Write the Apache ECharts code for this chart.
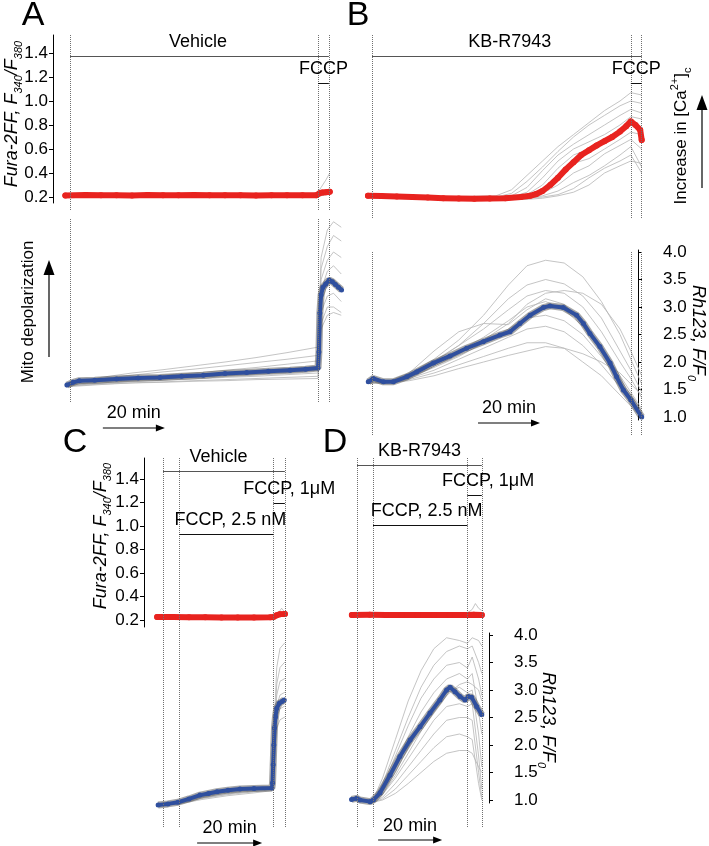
<!DOCTYPE html>
<html><head><meta charset="utf-8">
<script src="https://cdn.jsdelivr.net/npm/echarts@6/dist/echarts.min.js"></script>
<style>html,body{margin:0;padding:0;background:#fff}#c{width:709px;height:846px}</style>
</head><body><div id="c"></div><script>
// ================= DATA =================
// Panel A (Vehicle) – Fura-2FF ratio, time in min
const tA_red = [-1.5, 5, 10, 15, 20, 25, 30, 35, 40, 45, 50, 55, 60, 65, 70, 75, 79.5, 80.5, 81.5, 82.5, 83.8];
const A_red  = [0.213, 0.216, 0.214, 0.215, 0.213, 0.216, 0.215, 0.214, 0.216, 0.215, 0.214, 0.215, 0.213, 0.214, 0.215, 0.214, 0.215, 0.232, 0.238, 0.240, 0.244];
const tA_grayTop = [-1.5, 20, 40, 60, 79.5, 81, 82.5, 83.8];
const A_grayTop = [
  [0.20, 0.20, 0.20, 0.20, 0.20, 0.21, 0.22, 0.22],
  [0.23, 0.23, 0.23, 0.23, 0.23, 0.25, 0.26, 0.26],
  [0.22, 0.22, 0.22, 0.22, 0.22, 0.28, 0.34, 0.40]
];
// Panel A – Rh123 F/F0
const tA_blue = [-1, 1, 3, 8, 15, 22, 29, 36, 43, 50, 57, 64, 71, 76, 80, 80.3, 80.6, 81, 81.6, 82.5, 83.6, 84.6, 85.6, 86.6, 87.6];
const A_blue  = [1.58, 1.63, 1.66, 1.67, 1.69, 1.71, 1.72, 1.74, 1.76, 1.79, 1.81, 1.83, 1.85, 1.87, 1.89, 2.18, 2.89, 3.22, 3.36, 3.42, 3.49, 3.46, 3.41, 3.36, 3.31];
const tA_grayBot = [-1, 10, 20, 30, 40, 50, 60, 70, 80, 81, 83, 85, 87.5];
const A_grayBot = [
  [1.60, 1.72, 1.80, 1.86, 1.93, 2.00, 2.08, 2.17, 2.27, 3.90, 4.40, 4.55, 4.45],
  [1.58, 1.70, 1.76, 1.82, 1.87, 1.93, 1.99, 2.05, 2.12, 3.70, 4.10, 4.30, 4.20],
  [1.57, 1.66, 1.72, 1.76, 1.80, 1.85, 1.90, 1.96, 2.02, 3.50, 3.85, 4.00, 3.90],
  [1.58, 1.64, 1.68, 1.72, 1.76, 1.80, 1.84, 1.88, 1.92, 3.30, 3.65, 3.75, 3.60],
  [1.56, 1.62, 1.66, 1.69, 1.72, 1.75, 1.78, 1.81, 1.85, 3.10, 3.40, 3.50, 3.35],
  [1.57, 1.61, 1.64, 1.67, 1.69, 1.72, 1.74, 1.77, 1.80, 2.90, 3.20, 3.25, 3.10],
  [1.55, 1.59, 1.62, 1.64, 1.66, 1.68, 1.70, 1.72, 1.74, 2.70, 3.00, 3.00, 2.90],
  [1.56, 1.60, 1.62, 1.63, 1.65, 1.66, 1.68, 1.69, 1.70, 2.60, 2.85, 2.90, 2.85]
];

// Panel B (KB-R7943)
const tB_red = [-1.3, 3, 8, 13, 18, 23, 28, 33, 38, 43, 48, 51, 53, 55, 57.5, 60, 62.5, 65, 67.5, 70, 72.5, 75, 77.5, 80, 82, 83.5, 85, 86.5, 87];
const B_red  = [0.21, 0.208, 0.205, 0.20, 0.195, 0.19, 0.187, 0.186, 0.188, 0.19, 0.20, 0.21, 0.225, 0.25, 0.30, 0.36, 0.43, 0.49, 0.55, 0.59, 0.63, 0.665, 0.70, 0.745, 0.79, 0.83, 0.80, 0.76, 0.675];
const tB_grayTop = [-1.3, 20, 40, 45, 50, 55, 60, 65, 70, 75, 80, 83.5, 87];
const B_grayTop = [
  [0.21, 0.20, 0.21, 0.26, 0.38, 0.50, 0.62, 0.72, 0.82, 0.92, 1.00, 1.07, 1.05],
  [0.21, 0.20, 0.20, 0.23, 0.33, 0.45, 0.58, 0.70, 0.80, 0.88, 0.96, 1.00, 0.98],
  [0.21, 0.19, 0.19, 0.21, 0.28, 0.42, 0.55, 0.64, 0.72, 0.80, 0.88, 0.93, 0.90],
  [0.21, 0.19, 0.19, 0.20, 0.24, 0.36, 0.50, 0.60, 0.66, 0.72, 0.80, 0.87, 0.85],
  [0.21, 0.19, 0.19, 0.19, 0.22, 0.30, 0.44, 0.55, 0.60, 0.66, 0.74, 0.80, 0.78],
  [0.21, 0.19, 0.18, 0.19, 0.21, 0.26, 0.36, 0.48, 0.52, 0.60, 0.68, 0.74, 0.72],
  [0.21, 0.19, 0.18, 0.18, 0.20, 0.23, 0.30, 0.40, 0.46, 0.56, 0.63, 0.68, 0.60],
  [0.21, 0.19, 0.18, 0.18, 0.19, 0.21, 0.25, 0.32, 0.38, 0.46, 0.55, 0.62, 0.45],
  [0.21, 0.19, 0.18, 0.18, 0.19, 0.20, 0.22, 0.27, 0.36, 0.44, 0.50, 0.55, 0.40],
  [0.21, 0.19, 0.18, 0.18, 0.18, 0.19, 0.21, 0.24, 0.30, 0.40, 0.46, 0.50, 0.48]
];
const tB_blue = [-1.2, 0.4, 3.7, 6.9, 11.2, 14.4, 19.8, 25.2, 30.5, 35.9, 41.3, 44.5, 47.7, 51, 55.3, 57.4, 61.7, 66, 68.2, 70.3, 73.5, 76.8, 78.9, 81.1, 83.5, 87];
const B_blue  = [1.64, 1.70, 1.64, 1.64, 1.73, 1.82, 1.98, 2.11, 2.25, 2.37, 2.49, 2.55, 2.70, 2.85, 2.99, 3.02, 2.99, 2.85, 2.70, 2.52, 2.28, 1.98, 1.73, 1.49, 1.31, 1.00];
const tB_grayBot = [-1.2, 5, 12, 20, 28, 36, 44, 50, 56, 62, 68, 74, 80, 83.5, 87];
const B_grayBot = [
  [1.62, 1.63, 1.78, 2.05, 2.40, 2.85, 3.40, 3.75, 3.85, 3.80, 3.55, 3.10, 2.50, 2.05, 1.60],
  [1.62, 1.63, 1.75, 2.00, 2.30, 2.70, 3.15, 3.40, 3.50, 3.42, 3.20, 2.80, 2.20, 1.85, 1.45],
  [1.63, 1.64, 1.76, 2.02, 2.30, 2.60, 2.95, 3.20, 3.30, 3.25, 3.00, 2.55, 2.00, 1.70, 1.35],
  [1.64, 1.64, 1.80, 2.20, 2.55, 2.70, 2.68, 2.95, 3.15, 3.05, 2.70, 2.25, 1.75, 1.45, 1.15],
  [1.63, 1.64, 1.74, 1.95, 2.20, 2.45, 2.75, 3.00, 3.10, 2.95, 2.65, 2.20, 1.70, 1.40, 1.10],
  [1.62, 1.63, 1.72, 1.90, 2.10, 2.35, 2.60, 2.80, 2.85, 2.75, 2.50, 2.10, 1.65, 1.35, 1.05],
  [1.62, 1.63, 1.70, 1.85, 2.05, 2.25, 2.45, 2.60, 2.65, 2.55, 2.30, 1.95, 1.55, 1.30, 1.00],
  [1.61, 1.62, 1.68, 1.80, 1.95, 2.10, 2.25, 2.35, 2.35, 2.25, 2.00, 1.75, 1.40, 1.20, 0.98],
  [1.61, 1.62, 1.66, 1.75, 1.88, 2.00, 2.12, 2.20, 2.28, 2.25, 2.15, 2.00, 1.80, 1.60, 1.40],
  [1.62, 1.63, 1.72, 1.92, 2.15, 2.40, 2.70, 3.05, 3.25, 3.30, 3.25, 3.05, 2.60, 2.20, 1.75]
];

// Panel C (Vehicle + FCCP 2.5 nM)
const tC_red = [-1.8, 3, 8, 13, 18, 23, 28, 33, 34, 35, 36, 37.5];
const C_red  = [0.225, 0.225, 0.224, 0.223, 0.222, 0.222, 0.222, 0.223, 0.226, 0.240, 0.250, 0.252];
const tC_grayTop = [-1.8, 10, 20, 30, 34, 35.5, 36.5, 37.5];
const C_grayTop = [
  [0.215, 0.214, 0.213, 0.213, 0.215, 0.23, 0.24, 0.245],
  [0.235, 0.234, 0.233, 0.233, 0.235, 0.26, 0.30, 0.265]
];
const tC_blue = [-1.5, 1.5, 4.6, 8, 11.4, 14, 16.6, 20, 23.7, 28, 33.5, 33.7, 33.9, 34.1, 34.3, 34.6, 35, 35.8, 36.6, 37.3];
const C_blue  = [1.00, 1.02, 1.05, 1.11, 1.18, 1.21, 1.24, 1.27, 1.29, 1.30, 1.31, 1.40, 1.73, 2.09, 2.40, 2.60, 2.76, 2.85, 2.88, 2.91];
const tC_grayBot = [-1.5, 5, 12, 20, 28, 33.5, 34, 35, 36, 37.5];
const C_grayBot = [
  [1.00, 1.04, 1.14, 1.22, 1.28, 1.32, 2.20, 3.50, 3.85, 3.95],
  [1.00, 1.05, 1.16, 1.25, 1.31, 1.34, 2.00, 3.20, 3.50, 3.60],
  [1.00, 1.03, 1.12, 1.20, 1.26, 1.30, 1.90, 3.00, 3.25, 3.30],
  [1.00, 1.04, 1.15, 1.24, 1.30, 1.33, 1.80, 2.80, 3.00, 3.05],
  [1.00, 1.02, 1.10, 1.17, 1.22, 1.26, 1.70, 2.60, 2.75, 2.80],
  [1.00, 1.03, 1.12, 1.19, 1.24, 1.28, 1.60, 2.40, 2.55, 2.60]
];

// Panel D (KB-R7943 + FCCP 2.5 nM)
const tD_red = [-1.6, 4, 9, 14, 19, 24, 29, 34, 36.5, 39];
const D_red  = [0.243, 0.244, 0.243, 0.242, 0.243, 0.243, 0.242, 0.243, 0.244, 0.243];
const tD_grayTop = [-1.6, 10, 20, 30, 34.5, 36, 37, 38, 39];
const D_grayTop = [
  [0.235, 0.235, 0.234, 0.234, 0.235, 0.24, 0.25, 0.24, 0.24],
  [0.250, 0.250, 0.250, 0.250, 0.260, 0.29, 0.34, 0.30, 0.28]
];
const tD_blue = [-1.7, -0.1, 0.9, 4.1, 5.1, 7.2, 10.3, 13.4, 16.6, 19.7, 22.8, 25.9, 28, 29.1, 30.6, 32.2, 33.75, 34.8, 35.8, 37.4, 39];
const D_blue  = [1.01, 1.03, 1.00, 0.97, 1.00, 1.13, 1.45, 1.79, 2.09, 2.33, 2.58, 2.82, 3.00, 3.05, 2.97, 2.88, 2.82, 2.88, 2.87, 2.70, 2.55];
const tD_grayBot = [-1.7, 5, 8, 12, 16, 20, 24, 28, 32, 34.5, 36, 38, 39];
const D_grayBot = [
  [1.00, 1.00, 1.40, 2.10, 2.80, 3.35, 3.75, 3.95, 3.90, 3.85, 3.95, 3.90, 3.80],
  [1.00, 1.00, 1.30, 1.90, 2.50, 3.05, 3.45, 3.70, 3.80, 3.75, 3.80, 3.50, 3.30],
  [1.00, 0.98, 1.25, 1.80, 2.35, 2.85, 3.20, 3.45, 3.50, 3.40, 3.60, 3.20, 2.90],
  [1.00, 0.97, 1.20, 1.65, 2.15, 2.60, 2.95, 3.20, 3.30, 3.20, 3.30, 2.60, 2.20],
  [1.00, 0.97, 1.15, 1.50, 1.95, 2.35, 2.70, 2.95, 3.05, 2.95, 3.00, 2.20, 1.60],
  [1.00, 0.97, 1.10, 1.40, 1.75, 2.10, 2.45, 2.70, 2.75, 2.70, 2.75, 1.80, 1.20],
  [1.00, 0.96, 1.05, 1.30, 1.60, 1.90, 2.20, 2.45, 2.50, 2.50, 2.45, 1.50, 1.05],
  [1.00, 0.96, 1.02, 1.20, 1.45, 1.70, 1.95, 2.15, 2.20, 2.15, 2.10, 1.30, 1.00],
  [1.00, 0.96, 1.00, 1.12, 1.30, 1.50, 1.70, 1.85, 1.90, 1.90, 1.85, 1.60, 1.50],
  [1.00, 0.97, 1.10, 1.45, 1.85, 2.25, 2.60, 2.90, 3.10, 3.15, 3.10, 3.00, 2.80]
];

// Treatment periods [label, start, end] (min)
const treatA = [['Vehicle', 0, 83.5], ['FCCP', 80, 83.5]];
const treatB = [['KB-R7943', 0, 87], ['FCCP', 83.5, 87]];
const treatC = [['Vehicle', 0, 37.5], ['FCCP, 1\u03bcM', 34, 37.5], ['FCCP, 2.5 nM', 5, 34]];
const treatD = [['KB-R7943', 0, 39], ['FCCP, 1\u03bcM', 34.5, 39], ['FCCP, 2.5 nM', 5, 34.5]];
// Tick labels
const ratioTicks = [0.2, 0.4, 0.6, 0.8, 1.0, 1.2, 1.4];
const rhTicks = [1.0, 1.5, 2.0, 2.5, 3.0, 3.5, 4.0];
// Time scale bars (start time, length in min)
const scaleStart = {A: 10.6, B: 34.2, C: 10.5, D: 6.6};
const scaleLen = 20;

// ================= LAYOUT / STYLE =================
const FONT = "'Liberation Sans', Arial, Helvetica, sans-serif";
const RED = '#e8231f', BLUE = '#2f4f9e', GRAY = '#b5b5b5', FRINGE = '#3c3c3c', DOTC = '#707070';
function lin(y1, v1, y2, v2) { const p = (y1 - y2) / (v2 - v1); return y => v1 + (y1 - y) / p; }
const ratioAB = lin(197, 0.2, 53, 1.4);
const ratioCD = lin(620, 0.2, 479, 1.4);
const rhAB = lin(417, 1, 252, 4);
const rhC = lin(805, 1, 640, 4);
const rhD = lin(800, 1, 635, 4);
const K = {A: 3.1, B: 3.1, C: 3.25, D: 3.2};      // px per minute
const X0 = {A: 70, B: 372, C: 163, D: 357};       // px of t = 0
const XR = {A: [55, 348], B: [360, 650], C: [150, 292], D: [345, 492]};

const dataGrids = [
  {p: 'A', top: 35,  bottom: 210, s: ratioAB},
  {p: 'A', top: 218, bottom: 402, s: rhAB},
  {p: 'B', top: 35,  bottom: 218, s: ratioAB},
  {p: 'B', top: 252, bottom: 435, s: rhAB},
  {p: 'C', top: 458, bottom: 627, s: ratioCD},
  {p: 'C', top: 627, bottom: 827, s: rhC},
  {p: 'D', top: 457, bottom: 627, s: ratioCD},
  {p: 'D', top: 627, bottom: 827, s: rhD}
];
const axisGrids = [
  {x: 53,  pos: 'left',  top: 35,  bottom: 203, s: ratioAB, ticks: ratioTicks},
  {x: 658, pos: 'right', top: 250, bottom: 420, s: rhAB,    ticks: rhTicks},
  {x: 144, pos: 'left',  top: 458, bottom: 627, s: ratioCD, ticks: ratioTicks},
  {x: 509, pos: 'right', top: 633, bottom: 803, s: rhD,     ticks: rhTicks}
];

const grid = [], xAxis = [], yAxis = [], series = [];
dataGrids.forEach((g, i) => {
  const [l, r] = XR[g.p];
  grid.push({left: l, width: r - l, top: g.top, height: g.bottom - g.top, outerBoundsMode: 'none'});
  xAxis.push({type: 'value', gridIndex: i, show: false, min: (l - X0[g.p]) / K[g.p], max: (r - X0[g.p]) / K[g.p]});
  yAxis.push({type: 'value', gridIndex: i, show: false, min: g.s(g.bottom), max: g.s(g.top)});
});
axisGrids.forEach((g, j) => {
  const i = dataGrids.length + j;
  grid.push({left: g.pos === 'left' ? g.x : g.x - 20, width: 20, top: g.top, height: g.bottom - g.top, outerBoundsMode: 'none'});
  xAxis.push({type: 'value', gridIndex: i, show: false, min: 0, max: 1});
  yAxis.push({
    type: 'value', gridIndex: i, position: g.pos, min: g.s(g.bottom), max: g.s(g.top),
    splitLine: {show: false},
    axisLine: {show: true, lineStyle: {color: '#000', width: 1}},
    axisTick: {show: true, length: 4, customValues: g.ticks, lineStyle: {color: '#000', width: 1}},
    axisLabel: {customValues: g.ticks, formatter: v => v.toFixed(1), fontSize: 17, color: '#000', margin: 5, fontFamily: FONT}
  });
});

const pairs = (t, v) => t.map((x, k) => [x, v[k]]);
function grays(gi, t, arr) {
  arr.forEach(v => series.push({type: 'line', xAxisIndex: gi, yAxisIndex: gi, data: pairs(t, v), symbol: 'none',
    lineStyle: {color: GRAY, width: 0.8}, silent: true, z: 1, animation: false}));
}
function markLines(treat, lvls, s, withBars) {
  const times = [];
  treat.forEach(tr => { [tr[1], tr[2]].forEach(t => { if (!times.includes(t)) times.push(t); }); });
  const data = times.map(t => ({xAxis: t, lineStyle: {type: 'dotted', color: DOTC, width: 1}}));
  if (withBars) treat.forEach((tr, k) => {
    const v = s(lvls[k]);
    const ls = {type: 'solid', color: k === 0 ? '#555' : '#111', width: 1};
    data.push([{coord: [tr[1], v], lineStyle: ls}, {coord: [tr[2], v], lineStyle: ls}]);
  });
  return {silent: true, symbol: ['none', 'none'], label: {show: false}, animation: false, data};
}
function mean(gi, t, v, color, width, symSize, ml, fringe) {
  if (fringe) series.push({type: 'line', xAxisIndex: gi, yAxisIndex: gi, data: pairs(t, v), symbol: 'none',
    lineStyle: {color: FRINGE, width: width + 3, opacity: 0.45}, silent: true, z: 2, animation: false});
  series.push({type: 'line', xAxisIndex: gi, yAxisIndex: gi, data: pairs(t, v), symbol: 'circle', symbolSize: symSize,
    showSymbol: true, itemStyle: {color}, lineStyle: {color, width, cap: 'round', join: 'round'},
    silent: true, z: 3, animation: false, markLine: ml});
}
const barPx = {A: [56, 83], B: [56, 83], C: [471, 503, 534], D: [465, 495, 525]};
const labDx = {A: [-1.5, 0], B: [3, 0], C: [-5.5, 10, 4], D: [0, 13.5, 6.5]};
const treats = {A: treatA, B: treatB, C: treatC, D: treatD};

grays(0, tA_grayTop, A_grayTop);
mean(0, tA_red, A_red, RED, 6, 6, markLines(treatA, barPx.A, ratioAB, true), false);
grays(1, tA_grayBot, A_grayBot);
mean(1, tA_blue, A_blue, BLUE, 4, 5, markLines(treatA, [], null, false), true);
grays(2, tB_grayTop, B_grayTop);
mean(2, tB_red, B_red, RED, 6, 6, markLines(treatB, barPx.B, ratioAB, true), false);
grays(3, tB_grayBot, B_grayBot);
mean(3, tB_blue, B_blue, BLUE, 4, 5, markLines(treatB, [], null, false), true);
grays(4, tC_grayTop, C_grayTop);
mean(4, tC_red, C_red, RED, 6, 6, markLines(treatC, barPx.C, ratioCD, true), false);
grays(5, tC_grayBot, C_grayBot);
mean(5, tC_blue, C_blue, BLUE, 4, 5, markLines(treatC, [], null, false), true);
grays(6, tD_grayTop, D_grayTop);
mean(6, tD_red, D_red, RED, 6, 6, markLines(treatD, barPx.D, ratioCD, true), false);
grays(7, tD_grayBot, D_grayBot);
mean(7, tD_blue, D_blue, BLUE, 4, 5, markLines(treatD, [], null, false), true);

const chart = echarts.init(document.getElementById('c'), null, {renderer: 'canvas'});
chart.setOption({animation: false, backgroundColor: '#fff', grid, xAxis, yAxis, series});

// ================= ANNOTATIONS =================
const G = [];
function text(x, y, str, size, opt) {
  opt = opt || {};
  G.push({type: 'text', x, y, rotation: opt.rot || 0, silent: true, z: 10,
    style: {text: str, fill: '#000', font: (opt.italic ? 'italic ' : '') + size + 'px ' + FONT,
      align: 'center', verticalAlign: 'middle', textAlign: 'center', textVerticalAlign: 'middle', rich: opt.rich}});
}
function hArrow(x1, x2, y) {
  G.push({type: 'line', silent: true, shape: {x1, y1: y, x2: x2 - 6, y2: y}, style: {stroke: '#000', lineWidth: 1.2}});
  G.push({type: 'polygon', silent: true, shape: {points: [[x2, y], [x2 - 9, y - 3.5], [x2 - 9, y + 3.5]]}, style: {fill: '#000'}});
}
function vArrow(x, yTip, yEnd) {
  G.push({type: 'line', silent: true, shape: {x1: x, y1: yEnd, x2: x, y2: yTip + 10}, style: {stroke: '#000', lineWidth: 1.2}});
  G.push({type: 'polygon', silent: true, shape: {points: [[x, yTip], [x - 5.5, yTip + 15], [x + 5.5, yTip + 15]]}, style: {fill: '#000'}});
}
// panel letters
text(33, 16, 'A', 34); text(358, 16, 'B', 34); text(75, 443, 'C', 34); text(335, 443, 'D', 34);
// treatment labels
const topGi = {A: 0, B: 2, C: 4, D: 6};
Object.keys(treats).forEach(p => {
  treats[p].forEach((tr, k) => {
    const s = dataGrids[topGi[p]].s;
    const pt = chart.convertToPixel({gridIndex: topGi[p]}, [(tr[1] + tr[2]) / 2, s(barPx[p][k])]);
    text(pt[0] + labDx[p][k], pt[1] - 14, tr[0], 18);
  });
});
// 20-min scale bars
const botGi = {A: 1, B: 3, C: 5, D: 7};
const sbY = {A: [413, 428], B: [408, 423], C: [828, 843], D: [826, 840]};
Object.keys(scaleStart).forEach(p => {
  const a = chart.convertToPixel({gridIndex: botGi[p]}, [scaleStart[p], 2])[0];
  const b = chart.convertToPixel({gridIndex: botGi[p]}, [scaleStart[p] + scaleLen, 2])[0];
  text((a + b) / 2, sbY[p][0], scaleLen + ' min', 18);
  hArrow(a, b, sbY[p][1]);
});
// axis titles
const furaRich = {
  i: {fontSize: 18, fontStyle: 'italic', fontFamily: FONT, lineHeight: 24, fill: '#000', color: '#000'},
  s: {fontSize: 11, fontStyle: 'italic', fontFamily: FONT, lineHeight: 10, verticalAlign: 'bottom', fill: '#000', color: '#000'}
};
text(12, 114, '{i|Fura-2FF, F}{s|340}{i|/F}{s|380}', 18, {rot: Math.PI / 2, rich: furaRich});
text(101, 536, '{i|Fura-2FF, F}{s|340}{i|/F}{s|380}', 18, {rot: Math.PI / 2, rich: furaRich});
text(698, 333, '{i|Rh123, F/F}{s|0}', 18, {rot: -Math.PI / 2, rich: furaRich});
text(548, 720, '{i|Rh123, F/F}{s|0}', 18, {rot: -Math.PI / 2, rich: furaRich});
const caRich = {
  n: {fontSize: 17, fontFamily: FONT, lineHeight: 24, fill: '#000', color: '#000'},
  sup: {fontSize: 11, fontFamily: FONT, lineHeight: 10, verticalAlign: 'top', fill: '#000', color: '#000'},
  sub: {fontSize: 11, fontFamily: FONT, lineHeight: 10, verticalAlign: 'bottom', fill: '#000', color: '#000'}
};
text(681, 136, '{n|Increase in [Ca}{sup|2+}{n|]}{sub|c}', 17, {rot: Math.PI / 2, rich: caRich});
vArrow(702, 95, 188);
text(28, 312, 'Mito depolarization', 17, {rot: Math.PI / 2});
vArrow(49, 260, 357);

chart.setOption({graphic: G});
</script></body></html>
